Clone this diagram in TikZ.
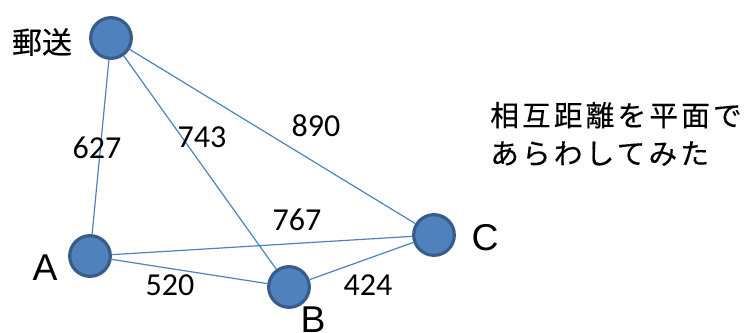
\documentclass[tikz,border=0pt]{standalone}
\usepackage{fontspec}
\setmainfont{Liberation Sans}
\newfontfamily\jpfont[FakeBold=0.3]{Noto Sans CJK JP}
\newfontfamily\jpwide[LetterSpace=11,FakeBold=0.3]{Noto Sans CJK JP}
\newfontfamily\numfont{Carlito}
\definecolor{nodefill}{RGB}{79,129,189}
\definecolor{nodeedge}{RGB}{56,93,138}
\definecolor{edgeblue}{RGB}{79,129,189}
\begin{document}
\begin{tikzpicture}[x=0.75pt,y=-0.75pt,
  vertex/.style={circle,fill=nodefill,draw=nodeedge,line width=2.4pt,minimum size=30.5pt,inner sep=0pt},
  edge/.style={draw=edgeblue,line width=0.9pt},
  dist/.style={font=\numfont\fontsize{24}{26}\selectfont,inner sep=0pt},
  letter/.style={font=\fontsize{28}{30}\selectfont,inner sep=0pt}]
\useasboundingbox (0,0) rectangle (749,332);
\node[vertex] (P) at (111,38) {};
\node[vertex] (A) at (90,256) {};
\node[vertex] (B) at (289,287) {};
\node[vertex] (C) at (434,235) {};
\path[edge] (P) -- (A);
\path[edge] (P) -- (B);
\path[edge] (P) -- (C);
\path[edge] (A) -- (C);
\path[edge] (A) -- (B);
\path[edge] (B) -- (C);
\node[inner sep=0pt,font=\jpfont\fontsize{22.5}{24}\selectfont] (lp) at (42,42) {郵送};
\node[letter] (la) at (45,268) {A};
\node[letter] (lb) at (313,320) {B};
\node[letter] (lc) at (485,238) {C};
\node[dist] (d1) at (97,148) {627};
\node[dist] (d2) at (202,137) {743};
\node[dist] (d3) at (316,126) {890};
\node[dist] (d4) at (297,220) {767};
\node[dist] (d5) at (170,285) {520};
\node[dist] (d6) at (368,285) {424};
\node[inner sep=0pt,anchor=west,align=left,font=\jpwide\fontsize{21.5}{28.5}\selectfont] (note) at (490,134) {相互距離を平面で\\あらわしてみた};
\end{tikzpicture}
\end{document}
